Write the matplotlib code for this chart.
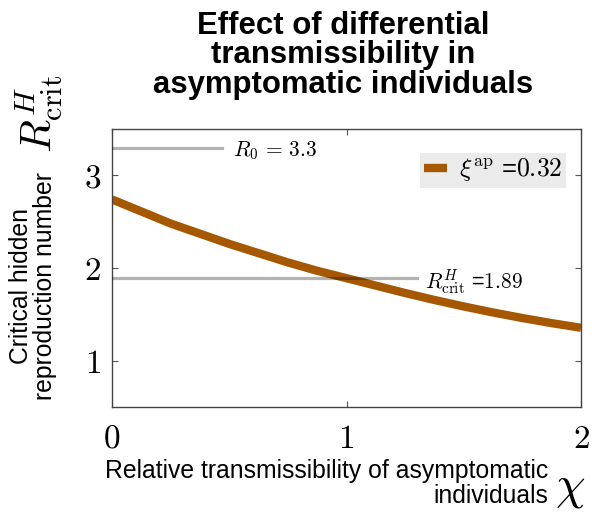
import numpy as np
import matplotlib
matplotlib.use('Agg')
import matplotlib.pyplot as plt

# values
chi = [0.0, 0.125, 0.25, 0.375, 0.5, 0.625, 0.75, 0.875, 1.0,
       1.125, 1.25, 1.375, 1.5, 1.625, 1.75, 1.875, 2.0]
r_crit = [2.74, 2.61, 2.48, 2.37, 2.26, 2.16, 2.06, 1.97, 1.89,
          1.81, 1.73, 1.655, 1.585, 1.52, 1.46, 1.405, 1.355]
xi_ap = 0.32
R0 = 3.3
r_crit_ref = 1.89
x_ticks = [0, 1, 2]
y_ticks = [1, 2, 3]

plt.rcParams['font.family'] = ['Liberation Sans', 'DejaVu Sans']
plt.rcParams['mathtext.fontset'] = 'cm'

W, H = 592, 512
fig = plt.figure(figsize=(W / 100, H / 100), dpi=100)

def fx(x):
    return x / W

def fy(y):
    return 1 - y / H

ax_l, ax_r, ax_t, ax_b = 112, 581, 129, 407
ax = fig.add_axes([fx(ax_l), fy(ax_b), (ax_r - ax_l) / W, (ax_b - ax_t) / H])

curve_col = '#a65800'
ax.plot(chi, r_crit, color=curve_col, lw=6, solid_capstyle='butt',
        solid_joinstyle='round', label=r'$\xi^{\mathrm{ap}}$ =$%.2f$' % xi_ap, zorder=2)

# reference lines
ax.plot([0, 0.47], [R0, R0], color='k', alpha=0.3, lw=2.3, zorder=3)
ax.plot([0, 1.3], [r_crit_ref, r_crit_ref], color='k', alpha=0.3, lw=2.3, zorder=3)
ax.annotate(r'$R_0\,=\,%.1f$' % R0, xy=(0.47, R0), xytext=(8, 0),
            textcoords='offset points', va='center_baseline', ha='left', fontsize=15.5)
ax.annotate(r'$R^{H}_{\mathrm{crit}}$ =$%.2f$' % r_crit_ref, xy=(1.3, r_crit_ref),
            xytext=(6, 0), textcoords='offset points', va='center_baseline',
            ha='left', fontsize=15.5)

ax.set_xlim(0, 2)
ax.set_ylim(0.5, 3.5)
ax.set_xticks(x_ticks)
ax.set_yticks(y_ticks)
ax.set_xticklabels(['$%d$' % t for t in x_ticks], fontsize=24)
ax.set_yticklabels(['$%d$' % t for t in y_ticks], fontsize=24)
ax.tick_params(direction='in', length=4, width=0.8, color='#555555',
               top=True, right=True)
ax.tick_params(axis='x', pad=12)
ax.tick_params(axis='y', pad=8)
for s in ax.spines.values():
    s.set_color('#444444')
    s.set_linewidth(1.0)

leg = ax.legend(loc='upper right', bbox_to_anchor=(0.968, 0.914), borderaxespad=0,
                fontsize=18.5, frameon=True, facecolor='#ebebeb', edgecolor='none',
                framealpha=1, handlelength=0.9, handletextpad=0.45, borderpad=0.15,
                fancybox=False)

# title
title_lines = ['Effect of differential', 'transmissibility in', 'asymptomatic individuals']
for i, line in enumerate(title_lines):
    fig.text(fx(343.5), fy(33.5 + 30 * i), line, ha='center', va='baseline',
             fontsize=22.4, fontweight='bold')

# x label
fig.text(fx(548), fy(478), 'Relative transmissibility of asymptomatic', ha='right',
         va='baseline', fontsize=17.8)
fig.text(fx(548), fy(503), 'individuals', ha='right', va='baseline', fontsize=17.8)
fig.text(fx(555), fy(499), r'$\chi$', ha='left', va='baseline', fontsize=34)

# y label
fig.text(fx(33), fy(286), 'Critical hidden\nreproduction number', rotation=90,
         rotation_mode='anchor', ha='center', va='center', multialignment='center',
         linespacing=1.0, fontsize=17.8)
fig.text(fx(52), fy(153), r'$R^{H}_{\mathrm{crit}}$', rotation=90, rotation_mode='anchor',
         ha='left', va='baseline', fontsize=31)

fig.savefig('out.png', dpi=100, facecolor='w')
